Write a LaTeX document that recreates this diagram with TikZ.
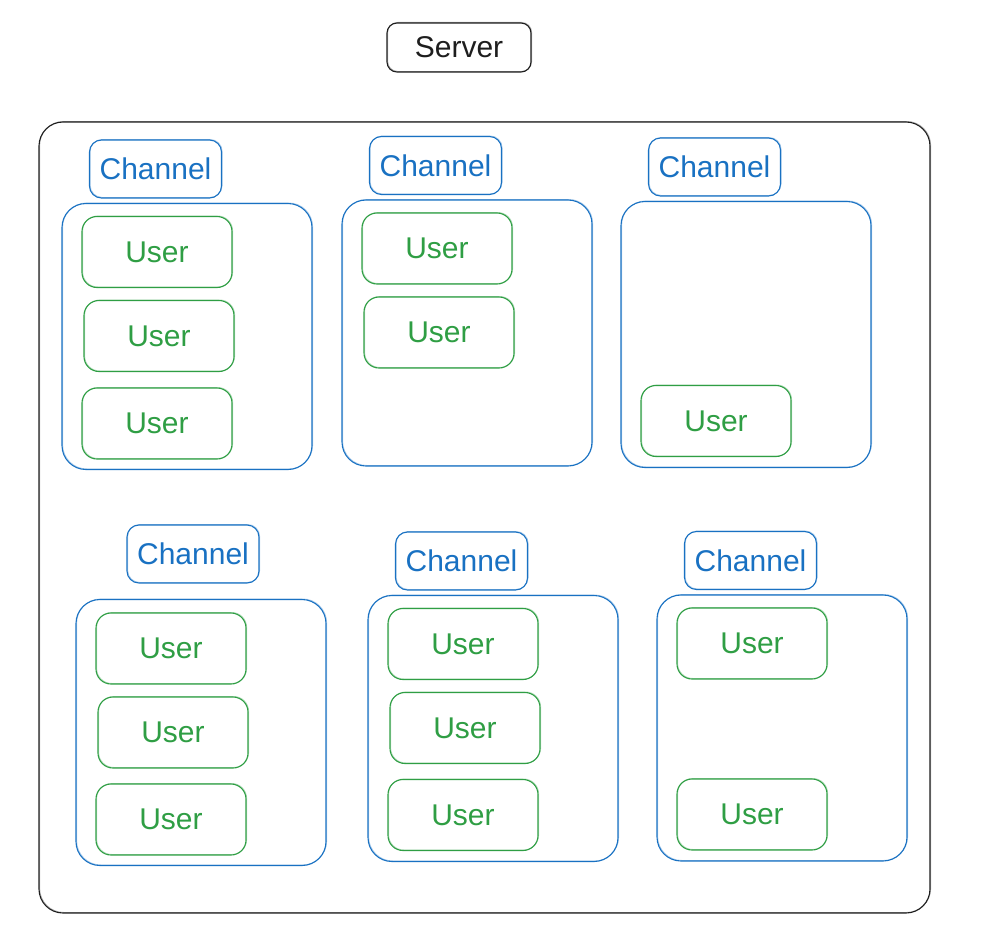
\documentclass[tikz,border=0pt]{standalone}
\usepackage{fontspec}
\setmainfont{Liberation Sans}
\definecolor{exblue}{HTML}{1971C2}
\definecolor{exgreen}{HTML}{2F9E44}
\definecolor{exblack}{HTML}{1E1E1E}
\begin{document}
\begin{tikzpicture}[x=1pt,y=-1pt,
  sketch/.style={preaction={draw,opacity=.35,line width=0.8pt,transform canvas={shift={(0.7pt,0.6pt)}}}},
  box/.style={shape=rectangle,inner sep=0pt,line width=1.1pt,font=\fontsize{30}{34}\selectfont,sketch},
  serverbox/.style={box,draw=exblack,text=exblack,minimum width=144pt,minimum height=49pt,rounded corners=10pt},
  outerbox/.style={box,draw=exblack,minimum width=891pt,minimum height=791pt,rounded corners=24pt},
  chanlabel/.style={box,draw=exblue,text=exblue,minimum width=132pt,minimum height=58pt,rounded corners=12pt},
  chanbox/.style={box,draw=exblue,minimum width=250pt,minimum height=266pt,rounded corners=24pt},
  userbox/.style={box,draw=exgreen,text=exgreen,minimum width=150pt,minimum height=71pt,rounded corners=15pt}]
\useasboundingbox (0,0) rectangle (1000,942);

\node[serverbox] (server) at (459,47.5) {Server};
\node[outerbox] (outer) at (484.5,517.5) {};

% channel labels
\node[chanlabel] (c1) at (155.5,169) {Channel};
\node[chanlabel] (c2) at (435.5,165.5) {Channel};
\node[chanlabel] (c3) at (714.5,167) {Channel};
\node[chanlabel] (c4) at (193,554) {Channel};
\node[chanlabel] (c5) at (461.5,561) {Channel};
\node[chanlabel] (c6) at (750.5,560.5) {Channel};

% channel containers
\node[chanbox] (g1) at (187,336.5) {};
\node[chanbox] (g2) at (467,333) {};
\node[chanbox] (g3) at (746,334.5) {};
\node[chanbox] (g4) at (201,732.5) {};
\node[chanbox] (g5) at (493,728.5) {};
\node[chanbox] (g6) at (782,728) {};

% users
\node[userbox] (u11) at (157,252) {User};
\node[userbox] (u12) at (159,336) {User};
\node[userbox] (u13) at (157,423.5) {User};
\node[userbox] (u21) at (437,248.5) {User};
\node[userbox] (u22) at (439,332.5) {User};
\node[userbox] (u31) at (716,421) {User};
\node[userbox] (u41) at (171,648.5) {User};
\node[userbox] (u42) at (173,732.5) {User};
\node[userbox] (u43) at (171,819.5) {User};
\node[userbox] (u51) at (463,644) {User};
\node[userbox] (u52) at (465,728) {User};
\node[userbox] (u53) at (463,815) {User};
\node[userbox] (u61) at (752,643.5) {User};
\node[userbox] (u62) at (752,814.5) {User};
\end{tikzpicture}
\end{document}
